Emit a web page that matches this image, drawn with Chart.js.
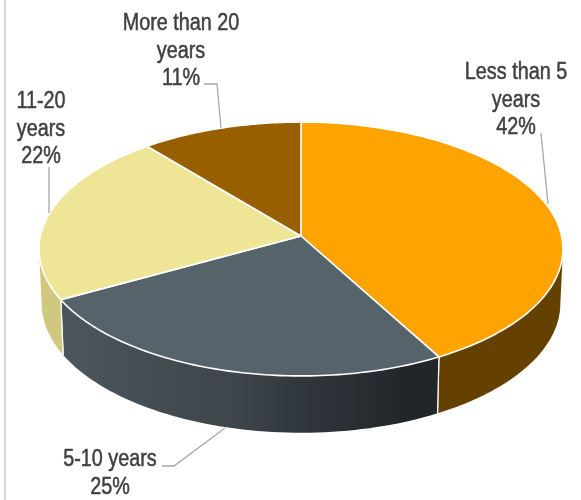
<!DOCTYPE html>
<html>
<head>
<meta charset="utf-8">
<title>Years of experience</title>
<script src="https://cdn.jsdelivr.net/npm/chart.js@4/dist/chart.umd.js"></script>
<style>
    html, body { margin: 0; padding: 0; background: #fff; }
    #wrap { position: relative; width: 581px; height: 500px; overflow: hidden; }
    #edge { position: absolute; left: 4px; top: 0; width: 2px; height: 500px; background: #d9d9d9; }
</style>
</head>
<body>
<div id="wrap">
    <canvas id="yearsChart" width="581" height="500"></canvas>
    <div id="edge"></div>
</div>
<script>
const categories = ["Less than 5 years", "5-10 years", "11-20 years", "More than 20 years"];
const shares = [42, 25, 22, 11];
const labelLines = [["Less than 5", "years"], ["5-10 years"], ["11-20", "years"], ["More than 20", "years"]];
const faceColors = ["#ffa300", "#57636b", "#eee597", "#985f00"];

// callout text centre and leader polyline per slice
const callouts = [
    { x: 516, y: 73, leader: [[541, 133], [548, 204]] },
    { x: 110, y: 460, leader: [[162, 466], [174, 466], [225, 428]] },
    { x: 41, y: 102, leader: [[49, 167], [49, 213]] },
    { x: 181, y: 24, leader: [[204, 84], [217, 84], [221, 128]] }
];

// disc seen in perspective
const discW = 260.6;
const discH = 125.6;
const tilt = -0.1024;
const wallDrop = 54;
const wallScaleX = 0.99;
const wallScaleY = 1.02;
const frontFrom = Math.asin(-tilt);
const frontTo = Math.PI - frontFrom;

function rimPoint(cx, cy, a) {
    const d = 1 + tilt * Math.sin(a);
    return [cx + discW * Math.cos(a) / d, cy + discH * Math.sin(a) / d];
}

function floorPoint(cx, cy, a) {
    const p = rimPoint(cx, cy, a);
    return [cx + (p[0] - cx) * wallScaleX, cy + (p[1] - cy) * wallScaleY + wallDrop];
}

function normAngle(a) {
    // keep the angle in -90deg..270deg, the range the pie sweeps
    while (a >= 1.5 * Math.PI) a -= 2 * Math.PI;
    return a;
}

// top face of each slice goes through the projection instead of a flat arc
Chart.ArcElement.prototype.draw = function(ctx) {
    const steps = 80;
    ctx.save();
    ctx.beginPath();
    ctx.moveTo(this.x, this.y);
    for (let i = 0; i <= steps; i++) {
        const a = this.startAngle + (this.endAngle - this.startAngle) * i / steps;
        const p = rimPoint(this.x, this.y, a);
        ctx.lineTo(p[0], p[1]);
    }
    ctx.closePath();
    ctx.fillStyle = this.options.backgroundColor;
    ctx.fill();
    ctx.strokeStyle = "#ffffff";
    ctx.lineWidth = 1.6;
    ctx.lineJoin = "round";
    ctx.stroke();
    ctx.restore();
};

function wallFill(ctx, index) {
    if (index === 0) return "#654100";
    if (index === 2) return "#d1c880";
    const g = ctx.createLinearGradient(62, 0, 442, 0);
    g.addColorStop(0, "#4c565d");
    g.addColorStop(0.45, "#3e454b");
    g.addColorStop(0.65, "#2f363a");
    g.addColorStop(0.9, "#22262b");
    g.addColorStop(1, "#22262b");
    return g;
}

const wallsPlugin = {
    id: "walls",
    beforeDatasetsDraw(chart) {
        const ctx = chart.ctx;
        chart.getDatasetMeta(0).data.forEach((arc, index) => {
            const from = Math.max(normAngle(arc.startAngle), frontFrom);
            const to = Math.min(normAngle(arc.startAngle) + arc.endAngle - arc.startAngle, frontTo);
            if (to <= from) return;
            const steps = 60;
            ctx.save();
            ctx.beginPath();
            for (let i = 0; i <= steps; i++) {
                const p = rimPoint(arc.x, arc.y, from + (to - from) * i / steps);
                ctx.lineTo(p[0], p[1]);
            }
            for (let i = steps; i >= 0; i--) {
                const p = floorPoint(arc.x, arc.y, from + (to - from) * i / steps);
                ctx.lineTo(p[0], p[1]);
            }
            ctx.closePath();
            ctx.fillStyle = wallFill(ctx, index);
            ctx.fill();
            // white seam where two walls meet
            ctx.strokeStyle = "#ffffff";
            ctx.lineWidth = 1.2;
            [from, to].forEach(a => {
                if (a === frontFrom || a === frontTo) return;
                const top = rimPoint(arc.x, arc.y, a);
                const bottom = floorPoint(arc.x, arc.y, a);
                ctx.beginPath();
                ctx.moveTo(top[0], top[1]);
                ctx.lineTo(bottom[0], bottom[1]);
                ctx.stroke();
            });
            ctx.restore();
        });
    }
};

const calloutsPlugin = {
    id: "callouts",
    afterDatasetsDraw(chart) {
        const ctx = chart.ctx;
        const squeeze = 0.86;
        callouts.forEach((c, i) => {
            ctx.save();
            ctx.beginPath();
            c.leader.forEach((p, j) => j ? ctx.lineTo(p[0], p[1]) : ctx.moveTo(p[0], p[1]));
            ctx.strokeStyle = "#a6a6a6";
            ctx.lineWidth = 1.3;
            ctx.stroke();

            // condensed face: narrow the regular one and thicken it a little
            ctx.translate(c.x, 0);
            ctx.scale(squeeze, 1);
            ctx.fillStyle = "#404040";
            ctx.strokeStyle = "#404040";
            ctx.lineWidth = 0.5;
            ctx.font = "23px 'Liberation Sans', sans-serif";
            ctx.textAlign = "center";
            ctx.textBaseline = "middle";
            const lines = labelLines[i].concat(shares[i] + "%");
            lines.forEach((line, j) => {
                ctx.fillText(line, 0, c.y + j * 27.5);
                ctx.strokeText(line, 0, c.y + j * 27.5);
            });
            ctx.restore();
        });
    }
};

new Chart(document.getElementById("yearsChart"), {
    type: "pie",
    data: {
        labels: categories,
        datasets: [{
            data: shares,
            backgroundColor: faceColors,
            borderWidth: 0
        }]
    },
    options: {
        responsive: false,
        animation: false,
        // leaves the pie centre at 301,236
        layout: { padding: { left: 21, bottom: 28 } },
        plugins: {
            legend: { display: false },
            tooltip: { enabled: false }
        }
    },
    plugins: [wallsPlugin, calloutsPlugin]
});
</script>
</body>
</html>
